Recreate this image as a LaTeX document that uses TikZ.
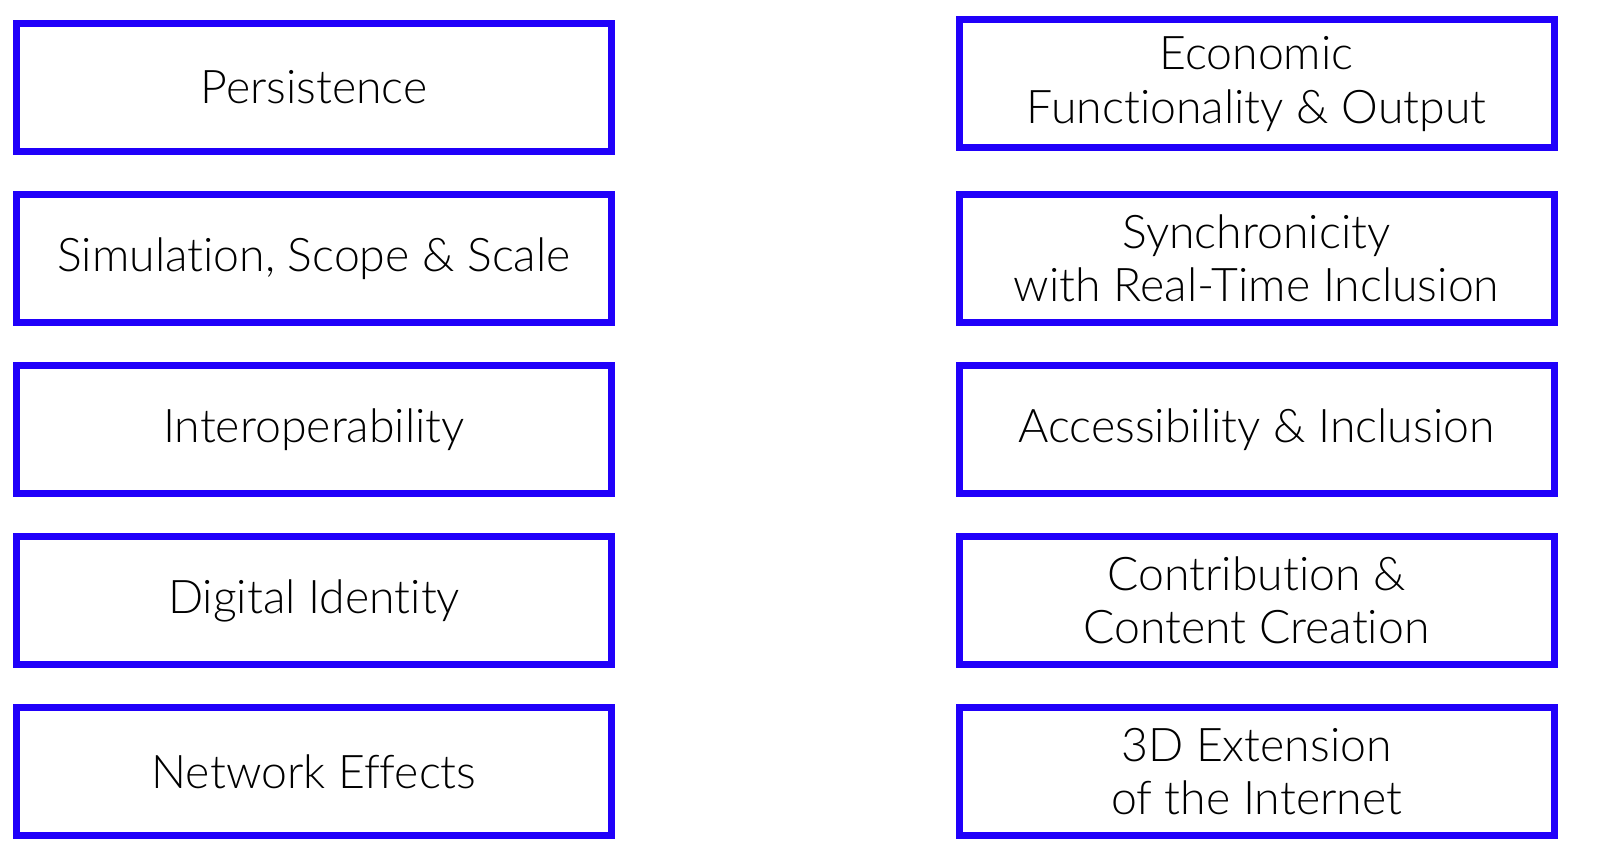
\documentclass[tikz,border=0pt]{standalone}
\usepackage{fontspec}
\setmainfont{Lato}[UprightFont=* Light, RawFeature={-liga;-dlig}]
\definecolor{boxblue}{RGB}{32,0,250}
\begin{document}
\begin{tikzpicture}[x=0.5pt,y=-0.5pt,
  itembox/.style={draw=boxblue, line width=3.5pt, minimum width=297.5pt, minimum height=64pt,
    inner sep=0pt, align=center, font=\fontsize{23.2}{26.8}\selectfont, text=black}]
\useasboundingbox (0,0) rectangle (1600,865);
\node[itembox] (persistence) at (314,87.5) {Persistence};
\node[itembox] (simulation) at (314,258.5) {Simulation, Scope \& Scale};
\node[itembox] (interop) at (314,429.5) {Interoperability};
\node[itembox] (identity) at (314,600.5) {Digital Identity};
\node[itembox] (network) at (314,771.5) {Network Effects};
\node[itembox] (economic) at (1256.5,84) {Economic\\Functionality \& Output};
\node[itembox] (synchro) at (1256.5,258.5) {Synchronicity\\with Real-Time Inclusion};
\node[itembox] (access) at (1256.5,429.5) {Accessibility \& Inclusion};
\node[itembox] (contrib) at (1256.5,600.5) {Contribution \&\\Content Creation};
\node[itembox] (threed) at (1256.5,771.5) {3D Extension\\of the Internet};
\end{tikzpicture}
\end{document}
